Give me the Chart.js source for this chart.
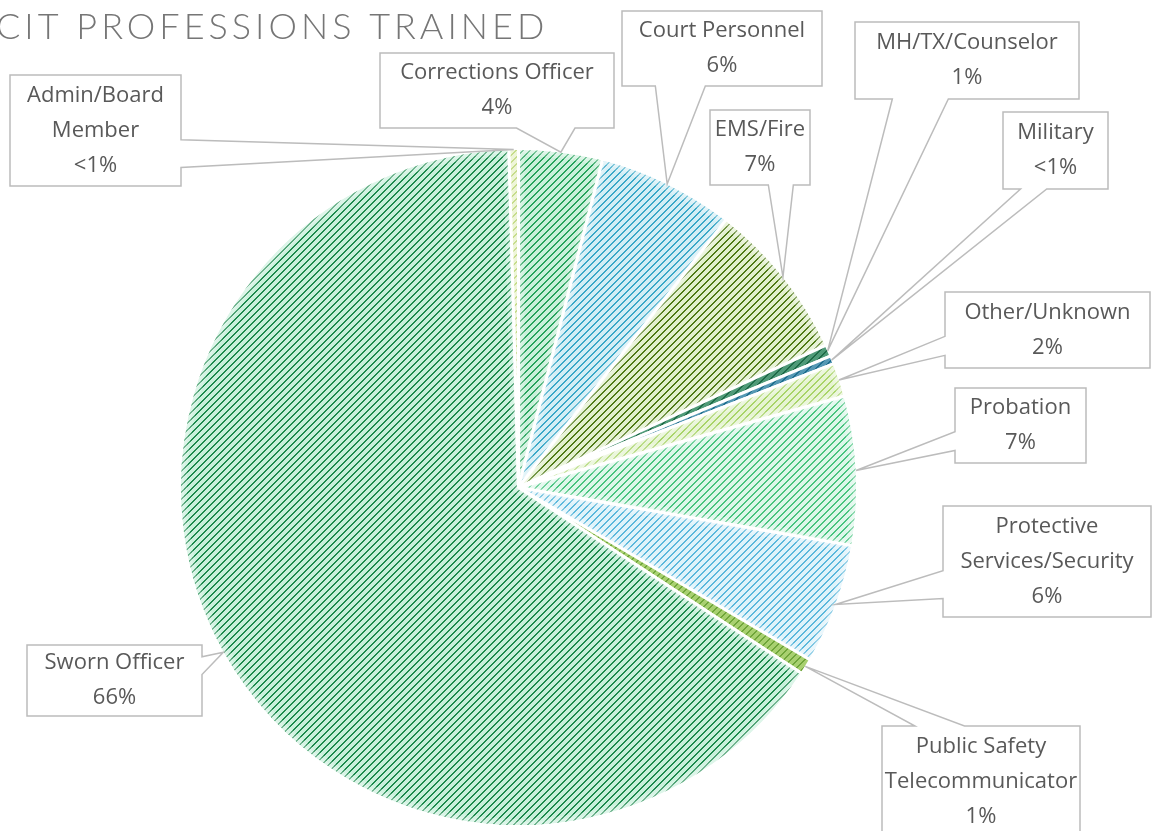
<!DOCTYPE html>
<html>
<head>
<meta charset="utf-8">
<title>CIT Professions Trained</title>
<script src="https://cdn.jsdelivr.net/npm/chart.js@4.4.0/dist/chart.umd.min.js"></script>
<style>
  html, body { margin: 0; padding: 0; background: #fff; overflow: hidden; }
  canvas { display: block; }
</style>
</head>
<body>
<canvas id="professionsChart" width="1155" height="831"></canvas>
<script>
// data (clockwise from 12 o'clock)
const professions = [
  "Corrections Officer", "Court Personnel", "EMS/Fire", "MH/TX/Counselor", "Military",
  "Other/Unknown", "Probation", "Protective Services/Security", "Public Safety Telecommunicator",
  "Sworn Officer", "Admin/Board Member"
];
const shares = [4.0, 6.5, 7.6, 0.55, 0.4, 1.6, 7.1, 5.75, 0.75, 65.3, 0.45];
const shareLabels = ["4%", "6%", "7%", "1%", "<1%", "2%", "7%", "6%", "1%", "66%", "<1%"];
const chartTitle = "CIT PROFESSIONS TRAINED";

// hatch colours: [background, stripe]
const sliceColors = [
  ["#c9f0da", "#27a35c"],
  ["#d3eef5", "#3aa8c8"],
  ["#e2f0cd", "#4f7a16"],
  ["#4f9a78", "#1f6b48"],
  ["#5598b4", "#1f6e8e"],
  ["#e6f4d2", "#a8d468"],
  ["#dcf7ea", "#48c47f"],
  ["#dff3fa", "#5bb8dc"],
  ["#a8d070", "#6fa53a"],
  ["#c8f0db", "#1d8a4d"],
  ["#eef5d8", "#c6dc8c"]
];

// callout boxes: left, top, width, height (same order as professions)
const calloutBoxes = [
  [380, 53, 234, 75],
  [622, 11, 200, 75],
  [710, 110, 100, 75],
  [855, 22, 224, 77],
  [1003, 112, 105, 77],
  [945, 292, 205, 76],
  [955, 388, 131, 75],
  [943, 506, 208, 111],
  [882, 726, 198, 111],
  [27, 645, 175, 71],
  [10, 75, 171, 111]
];

const canvas = document.getElementById("professionsChart");
const ctx = canvas.getContext("2d");

function hatch(bg, fg) {
  const n = 7;
  const tile = document.createElement("canvas");
  tile.width = n; tile.height = n;
  const g = tile.getContext("2d");
  g.fillStyle = bg;
  g.fillRect(0, 0, n, n);
  g.fillStyle = fg;
  for (let y = 0; y < n; y++) {
    for (let x = 0; x < n; x++) {
      if ((x + y) % n < 2) g.fillRect(x, y, 1, 1);
    }
  }
  return ctx.createPattern(tile, "repeat");
}

function wrapText(c, text, maxWidth) {
  const words = text.split(" ");
  const lines = [];
  let line = "";
  words.forEach(w => {
    const test = line ? line + " " + w : w;
    if (line && c.measureText(test).width > maxWidth) {
      lines.push(line);
      line = w;
    } else {
      line = test;
    }
  });
  if (line) lines.push(line);
  return lines;
}

// Excel style wedge callout: base sits at 2/12..5/12 or 7/12..10/12 of the side
function calloutPath(c, left, top, w, h, tx, ty) {
  const cx = left + w / 2, cy = top + h / 2;
  const dx = tx - cx, dy = ty - cy;
  const dq = dx * h / w;
  const right = left + w, bottom = top + h;
  const x1 = left + w * (dx > 0 ? 7 : 2) / 12;
  const x2 = left + w * (dx > 0 ? 10 : 5) / 12;
  const y1 = top + h * (dy > 0 ? 7 : 2) / 12;
  const y2 = top + h * (dy > 0 ? 10 : 5) / 12;
  let side;
  if (Math.abs(dy) > Math.abs(dq)) side = dy < 0 ? "top" : "bottom";
  else side = dx < 0 ? "left" : "right";

  c.beginPath();
  c.moveTo(left, top);
  if (side === "top") { c.lineTo(x1, top); c.lineTo(tx, ty); c.lineTo(x2, top); }
  c.lineTo(right, top);
  if (side === "right") { c.lineTo(right, y1); c.lineTo(tx, ty); c.lineTo(right, y2); }
  c.lineTo(right, bottom);
  if (side === "bottom") { c.lineTo(x2, bottom); c.lineTo(tx, ty); c.lineTo(x1, bottom); }
  c.lineTo(left, bottom);
  if (side === "left") { c.lineTo(left, y2); c.lineTo(tx, ty); c.lineTo(left, y1); }
  c.closePath();
}

const calloutPlugin = {
  id: "callouts",
  afterDatasetsDraw(chart) {
    const c = chart.ctx;
    const arcs = chart.getDatasetMeta(0).data;
    c.save();

    // soft light edge inside the wider slices
    arcs.forEach(arc => {
      const p = arc.getProps(["x", "y", "startAngle", "endAngle", "outerRadius"], true);
      if (p.endAngle - p.startAngle < 0.09) return;
      c.save();
      c.beginPath();
      c.moveTo(p.x, p.y);
      c.arc(p.x, p.y, p.outerRadius - 1.5, p.startAngle, p.endAngle);
      c.closePath();
      c.clip();
      c.strokeStyle = "rgba(255,255,255,0.22)";
      c.lineWidth = 12;
      c.stroke();
      c.lineWidth = 6;
      c.stroke();
      c.restore();
    });

    c.font = "22px 'Open Sans'";
    arcs.forEach((arc, i) => {
      const p = arc.getProps(["x", "y", "startAngle", "endAngle", "outerRadius"], true);
      const mid = (p.startAngle + p.endAngle) / 2;
      const tx = p.x + Math.cos(mid) * (p.outerRadius - 1);
      const ty = p.y + Math.sin(mid) * (p.outerRadius - 1);
      const [left, top, w, h] = calloutBoxes[i];

      calloutPath(c, left, top, w, h, tx, ty);
      c.fillStyle = "#ffffff";
      c.fill();
      c.lineWidth = 1.5;
      c.strokeStyle = "#bcbcbc";
      c.stroke();

      const lines = wrapText(c, professions[i], w - 6).concat([shareLabels[i]]);
      const lineH = 35;
      const startY = top + h / 2 - (lines.length - 1) * lineH / 2;
      c.fillStyle = "#595959";
      c.textAlign = "center";
      c.textBaseline = "middle";
      lines.forEach((ln, k) => c.fillText(ln, left + w / 2, startY + k * lineH));
    });
    c.restore();
  }
};

const titlePlugin = {
  id: "pageTitle",
  afterDraw(chart) {
    const c = chart.ctx;
    c.save();
    c.font = "300 36px Lato";
    c.letterSpacing = "4px";
    c.fillStyle = "#767676";
    c.textAlign = "left";
    c.textBaseline = "alphabetic";
    c.fillText(chartTitle, -4, 39);
    c.restore();
  }
};

new Chart(canvas, {
  type: "pie",
  data: {
    labels: professions,
    datasets: [{
      data: shares,
      backgroundColor: sliceColors.map(([bg, fg]) => hatch(bg, fg)),
      borderColor: "#ffffff",
      borderWidth: 3
    }]
  },
  options: {
    responsive: false,
    animation: false,
    layout: { padding: { top: 147, bottom: 3, left: 178, right: 296 } },
    plugins: {
      legend: { display: false },
      tooltip: { enabled: false }
    }
  },
  plugins: [calloutPlugin, titlePlugin]
});
</script>
</body>
</html>
